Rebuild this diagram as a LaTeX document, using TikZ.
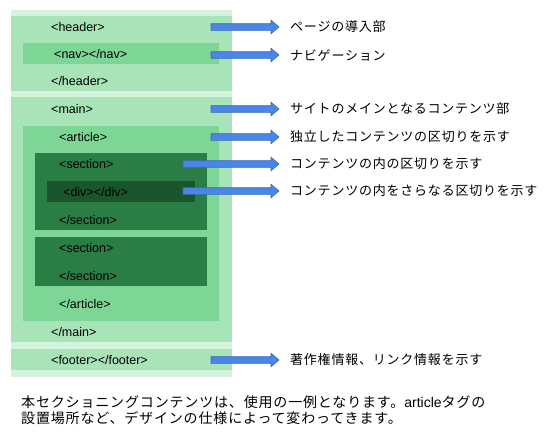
\documentclass[tikz,border=0pt]{standalone}
\usepackage{fontspec}
\setmainfont{Liberation Sans}
\newfontfamily\jpfont{Noto Sans CJK JP}[LetterSpace=6]
\usetikzlibrary{calc}
\definecolor{palegreen}{HTML}{D5F2DC}
\definecolor{lightgreen}{HTML}{A8E4B8}
\definecolor{midgreen}{HTML}{7DD696}
\definecolor{darkgreen}{HTML}{2A7D44}
\definecolor{deepgreen}{HTML}{1B552C}
\definecolor{arrowblue}{HTML}{4A86E8}
\definecolor{arrowedge}{HTML}{3A69B8}
\tikzset{
  tag/.style={anchor=west, inner sep=0pt, font=\fontsize{12.5}{14}\selectfont, text=black},
  lbl/.style={anchor=west, inner sep=0pt, font=\jpfont\fontsize{13}{15}\selectfont, text=black},
  blockarrow/.style={fill=arrowblue, draw=arrowedge, line width=0.6pt, line join=miter}
}
\newcommand\barrow[2]{%
  \path[blockarrow] ($(#1)+(0,-3.3)$) -- ($(#2)+(-8,-3.3)$) -- ($(#2)+(-8,-6.8)$) -- (#2)
    -- ($(#2)+(-8,6.8)$) -- ($(#2)+(-8,3.3)$) -- ($(#1)+(0,3.3)$) -- cycle;}
\begin{document}
\begin{tikzpicture}[x=1pt,y=-1pt]
\useasboundingbox[fill=white] (0,0) rectangle (560,442);
% boxes
\fill[palegreen] (11,10) rectangle (232,377);
\fill[lightgreen] (11,16) rectangle (232,91);
\fill[lightgreen] (11,97) rectangle (232,342);
\fill[lightgreen] (11,349) rectangle (232,370);
\fill[midgreen] (23,43) rectangle (219,64);
\fill[midgreen] (23,126) rectangle (219,321);
\fill[darkgreen] (35,153) rectangle (207,230);
\fill[deepgreen] (47,181) rectangle (195,202);
\fill[darkgreen] (35,237) rectangle (207,286);
% tags
\node[tag] (hdr) at (51,27) {<header>};
\node[tag] (nav) at (54,54) {<nav></nav>};
\node[tag] (hdrc) at (51,81) {</header>};
\node[tag] (main) at (51,109) {<main>};
\node[tag] (art) at (59,137) {<article>};
\node[tag] (sec) at (59,164) {<section>};
\node[tag] (div) at (63,192) {<div></div>};
\node[tag] (secc) at (59,220) {</section>};
\node[tag] (secb) at (59,248) {<section>};
\node[tag] (secbc) at (59,276) {</section>};
\node[tag] (artc) at (59,304) {</article>};
\node[tag] (mainc) at (51,332) {</main>};
\node[tag] (ftr) at (51,360) {<footer></footer>};
% labels
\node[lbl] (l1) at (290,27) {ページの導入部};
\node[lbl] (l2) at (290,55) {ナビゲーション};
\node[lbl] (l3) at (290,109) {サイトのメインとなるコンテンツ部};
\node[lbl] (l4) at (290,137) {独立したコンテンツの区切りを示す};
\node[lbl] (l5) at (290,164) {コンテンツの内の区切りを示す};
\node[lbl] (l6) at (290,191) {コンテンツの内をさらなる区切りを示す};
\node[lbl] (l7) at (290,360) {著作権情報、リンク情報を示す};
% arrow coordinates
\coordinate (s1) at (211,27);  \coordinate (e1) at (279,27);
\coordinate (s2) at (211,55);  \coordinate (e2) at (279,55);
\coordinate (s3) at (211,109); \coordinate (e3) at (279,109);
\coordinate (s4) at (211,137); \coordinate (e4) at (279,137);
\coordinate (s5) at (183,164); \coordinate (e5) at (279,164);
\coordinate (s6) at (183,191); \coordinate (e6) at (279,191);
\coordinate (s7) at (211,360); \coordinate (e7) at (279,360);
\foreach \i in {1,...,7} {\barrow{s\i}{e\i}}
% note
\node[anchor=west, inner sep=0pt, align=left, font=\jpfont\fontsize{14}{15.5}\selectfont] (note) at (21,410)
  {本セクショニングコンテンツは、使用の一例となります。{\fontspec{Liberation Sans}article}タグの\\設置場所など、デザインの仕様によって変わってきます。};
\end{tikzpicture}
\end{document}
